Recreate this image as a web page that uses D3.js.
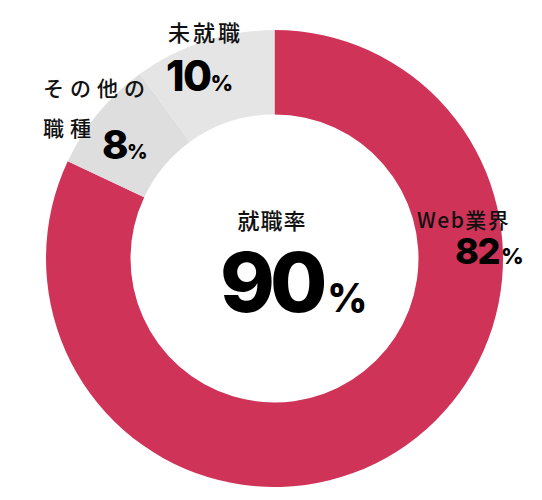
<!DOCTYPE html>
<html><head><meta charset="utf-8">
<script src="https://cdn.jsdelivr.net/npm/d3@7"></script>
<style>
html,body{margin:0;padding:0;background:#fff;}
svg{display:block;}
.jp{font-family:"Noto Sans CJK JP","Noto Sans",sans-serif;font-weight:500;fill:#111;}
.num{font-family:Inter,"Noto Sans",sans-serif;font-weight:800;fill:#000;}
</style></head>
<body>
<svg id="c" width="542" height="500"></svg>
<script>
const categories = ["Web業界", "その他の職種", "未就職"];
const values = [82, 8, 10];
const colors = ["#cf3358", "#dedede", "#e5e5e5"];
const centerTitle = "就職率";
const centerValue = 90;

const cx = 274.5, cy = 258.5, rOuter = 228.5, rInner = 144;
const svg = d3.select("#c");
const g = svg.append("g").attr("transform", `translate(${cx},${cy})`);

const pie = d3.pie().sort(null).value(d => d.v).startAngle(0).endAngle(2 * Math.PI);
const arcs = pie(categories.map((c, i) => ({ c, v: values[i], col: colors[i] })));
const arc = d3.arc().innerRadius(rInner).outerRadius(rOuter);

g.selectAll("path").data(arcs).enter().append("path")
  .attr("d", arc).attr("fill", d => d.data.col);

// center
svg.append("text").attr("class", "jp").attr("x", 272).attr("y", 229)
  .attr("text-anchor", "middle").attr("font-size", 22).attr("letter-spacing", 1).text(centerTitle);
const ct = svg.append("text").attr("class", "num").attr("x", 220).attr("y", 312);
ct.append("tspan").attr("font-size", 83).attr("letter-spacing", -5).text(centerValue);
ct.append("tspan").attr("font-size", 39).attr("dx", 5).text("%");

// labels
function valueLabel(x, y, v, big, small, dx) {
  const t = svg.append("text").attr("class", "num").attr("x", x).attr("y", y);
  t.append("tspan").attr("font-size", big).attr("letter-spacing", -1.5).text(v);
  t.append("tspan").attr("font-size", small).attr("dx", dx).text("%");
}
// Web業界
svg.append("text").attr("class", "jp").attr("x", 417).attr("y", 228)
  .attr("font-size", 21).attr("letter-spacing", 1.5).text(categories[0]);
valueLabel(455, 264, values[0], 36, 22, 2);
// その他の職種
svg.append("text").attr("class", "jp").attr("x", 43).attr("y", 96)
  .attr("font-size", 21).attr("letter-spacing", 6).text(categories[1].slice(0, 4));
svg.append("text").attr("class", "jp").attr("x", 43).attr("y", 136)
  .attr("font-size", 21).attr("letter-spacing", 6).text(categories[1].slice(4));
valueLabel(102, 159, values[1], 40, 20, 0);
// 未就職
svg.append("text").attr("class", "jp").attr("x", 168).attr("y", 41)
  .attr("font-size", 22).attr("letter-spacing", 3).text(categories[2]);
valueLabel(166, 91, values[2], 42, 22, 0);
</script>
</body></html>
